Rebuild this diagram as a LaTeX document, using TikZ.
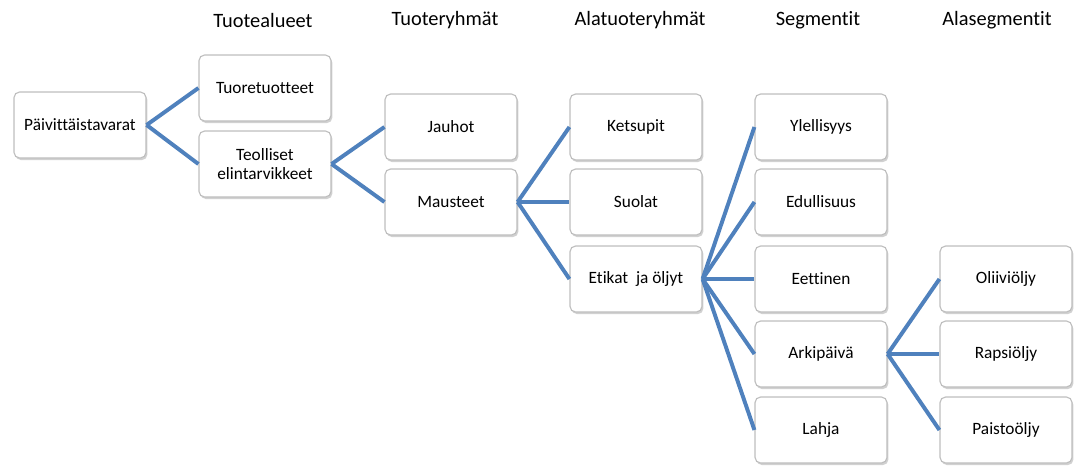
\documentclass[tikz,border=0pt]{standalone}
\usepackage{fontspec}
\setmainfont{Carlito}[Ligatures={NoCommon}]
\usepackage{xcolor}
\usetikzlibrary{shadows}

\definecolor{officeblue}{RGB}{79,129,189}
\definecolor{boxline}{RGB}{190,190,190}

\begin{document}
\begin{tikzpicture}[
    x=0.025cm, y=-0.025cm,
    box/.style={rectangle, draw=boxline, thick, rounded corners=4pt, fill=white,
                minimum width=3.3cm, minimum height=1.65cm,
                align=center, inner sep=2pt, font=\fontsize{12.3}{14}\selectfont,
                drop shadow={shadow xshift=1pt, shadow yshift=-1.5pt, fill=black!30, opacity=0.6}},
    head/.style={font=\fontsize{14.5}{16}\selectfont, anchor=center},
    conn/.style={draw=officeblue, line width=2.8pt},
  ]
  \useasboundingbox (0,0) rectangle (1078,466);

  % ===== Column headings =====
  \node[head] (h1) at (263, 20) {Tuotealueet};
  \node[head] (h2) at (445, 20) {Tuoteryhmät};
  \node[head] (h3) at (640, 20) {Alatuoteryhmät};
  \node[head] (h4) at (818, 20) {Segmentit};
  \node[head] (h5) at (997, 20) {Alasegmentit};

  % ===== Boxes =====
  \node[box] (paiv) at (80, 125) {Päivittäistavarat};

  \node[box] (tuore) at (265, 88) {Tuoretuotteet};
  \node[box] (teoll) at (265, 164) {Teolliset\\elintarvikkeet};

  \node[box] (jauhot) at (451, 127) {Jauhot};
  \node[box] (maust) at (451, 202) {Mausteet};

  \node[box] (ketsu) at (636, 127) {Ketsupit};
  \node[box] (suola) at (636, 202) {Suolat};
  \node[box] (etikat) at (636, 279) {Etikat\ \ ja öljyt};

  \node[box] (ylell) at (821, 127) {Ylellisyys};
  \node[box] (edull) at (821, 202) {Edullisuus};
  \node[box] (eett) at (821, 279) {Eettinen};
  \node[box] (arki) at (821, 354) {Arkipäivä};
  \node[box] (lahja) at (821, 430) {Lahja};

  \node[box] (olii) at (1006, 279) {Oliiviöljy};
  \node[box] (raps) at (1006, 354) {Rapsiöljy};
  \node[box] (paist) at (1006, 430) {Paistoöljy};

  % ===== Connectors =====
  \draw[conn] (paiv.east) -- (tuore.west);
  \draw[conn] (paiv.east) -- (teoll.west);

  \draw[conn] (teoll.east) -- (jauhot.west);
  \draw[conn] (teoll.east) -- (maust.west);

  \draw[conn] (maust.east) -- (ketsu.west);
  \draw[conn] (maust.east) -- (suola.west);
  \draw[conn] (maust.east) -- (etikat.west);

  \draw[conn] (etikat.east) -- (ylell.west);
  \draw[conn] (etikat.east) -- (edull.west);
  \draw[conn] (etikat.east) -- (eett.west);
  \draw[conn] (etikat.east) -- (arki.west);
  \draw[conn] (etikat.east) -- (lahja.west);

  \draw[conn] (arki.east) -- (olii.west);
  \draw[conn] (arki.east) -- (raps.west);
  \draw[conn] (arki.east) -- (paist.west);

\end{tikzpicture}
\end{document}
